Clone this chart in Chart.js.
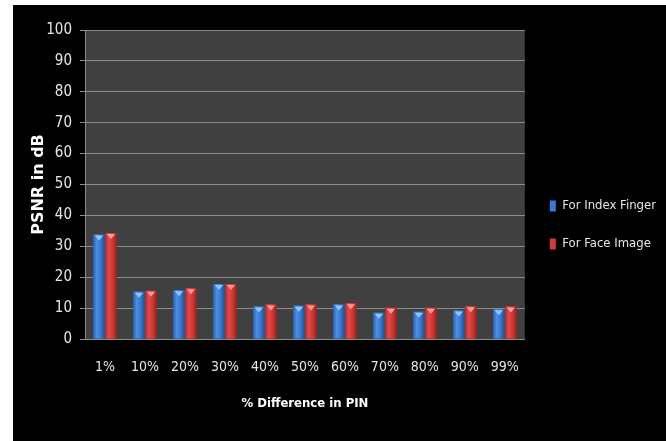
<!DOCTYPE html>
<html>
<head>
<meta charset="utf-8">
<script src="https://cdn.jsdelivr.net/npm/chart.js@4"></script>
<style>
  html, body { margin: 0; padding: 0; background: #ffffff; }
  #frame { position: absolute; left: 13px; top: 5px; width: 653px; height: 436px; background: #000000; }
  canvas { display: block; }
</style>
</head>
<body>
<div id="frame"><canvas id="psnr" width="653" height="436"></canvas></div>
<script>
// PSNR (dB) for each percentage difference in the PIN
const categories = ['1%', '10%', '20%', '30%', '40%', '50%', '60%', '70%', '80%', '90%', '99%'];
const indexFinger = [33.8, 15.3, 15.8, 17.8, 10.5, 10.8, 11.2, 8.5, 8.8, 9.2, 9.6];
const faceImage = [34.3, 15.6, 16.4, 17.8, 11.2, 11.2, 11.6, 10.1, 10.1, 10.6, 10.5];
const yTicks = [0, 10, 20, 30, 40, 50, 60, 70, 80, 90, 100];

const narrow = "'DejaVu Sans Condensed', 'Liberation Sans', sans-serif";

// cylinder-like shading for each series
const shades = [
  { flat: '#3a7ad0', edgeL: '#2b5fa8', light: '#4a90e6', mid: '#3673c6', edgeR: '#214d8c', hi: '#8fc6ff' },
  { flat: '#d23c3c', edgeL: '#a82a2a', light: '#e24a4a', mid: '#cc3434', edgeR: '#8c2020', hi: '#ff9a9a' }
];

const plotBackground = {
  id: 'plotBackground',
  beforeDraw(chart) {
    const { ctx, chartArea: a } = chart;
    ctx.save();
    ctx.fillStyle = '#404040';
    ctx.fillRect(a.left, a.top, a.right - a.left, a.bottom - a.top);
    ctx.restore();
  }
};

const shadedBars = {
  id: 'shadedBars',
  afterDatasetDraw(chart, args) {
    const ctx = chart.ctx;
    const s = shades[args.index];
    ctx.save();
    args.meta.data.forEach(bar => {
      const { x, y, base, width } = bar.getProps(['x', 'y', 'base', 'width'], true);
      const l = x - width / 2, r = x + width / 2;
      const g = ctx.createLinearGradient(l, 0, r, 0);
      g.addColorStop(0, s.edgeL);
      g.addColorStop(0.3, s.light);
      g.addColorStop(0.7, s.mid);
      g.addColorStop(1, s.edgeR);
      ctx.fillStyle = g;
      ctx.fillRect(l, y, width, base - y);
      ctx.beginPath();
      ctx.moveTo(l + 1.5, y + 1);
      ctx.lineTo(r - 1.5, y + 1);
      ctx.lineTo(x, y + 6);
      ctx.closePath();
      ctx.fillStyle = s.hi;
      ctx.fill();
    });
    ctx.restore();
  }
};

new Chart(document.getElementById('psnr'), {
  type: 'bar',
  data: {
    labels: categories,
    datasets: [
      { label: 'For Index Finger', data: indexFinger, backgroundColor: shades[0].flat, borderWidth: 0 },
      { label: 'For Face Image', data: faceImage, backgroundColor: shades[1].flat, borderWidth: 0 }
    ]
  },
  options: {
    responsive: false,
    animation: false,
    devicePixelRatio: 1,
    categoryPercentage: 0.6,
    barPercentage: 0.96,
    layout: { padding: { top: 25, left: 0, bottom: 21, right: 0 } },
    plugins: {
      tooltip: { enabled: false },
      legend: {
        position: 'right',
        labels: {
          boxWidth: 6,
          boxHeight: 11,
          padding: 25,
          color: '#e6e6e6',
          font: { family: narrow, size: 13 }
        }
      }
    },
    scales: {
      x: {
        afterFit(scale) { scale.height = 81; },
        grid: { display: false, drawTicks: false },
        border: { display: true, color: '#8c8c8c' },
        ticks: { color: '#e6e6e6', padding: 20, font: { family: narrow, size: 14 } },
        title: {
          display: true,
          text: '% Difference in PIN',
          color: '#ffffff',
          padding: { top: 10, bottom: 9 },
          font: { family: narrow, size: 13, weight: 'bold' }
        }
      },
      y: {
        min: 0,
        max: 100,
        afterFit(scale) { scale.width = 72; },
        afterBuildTicks(scale) { scale.ticks = yTicks.map(v => ({ value: v })); },
        grid: { color: '#8c8c8c', tickLength: 5, lineWidth: 1 },
        border: { color: '#8c8c8c' },
        ticks: { color: '#e6e6e6', padding: 8, font: { family: narrow, size: 15 } },
        title: {
          display: true,
          text: 'PSNR in dB',
          color: '#ffffff',
          padding: { top: 16, bottom: 4 },
          font: { family: "'DejaVu Sans', sans-serif", size: 16, weight: 'bold' }
        }
      }
    }
  },
  plugins: [plotBackground, shadedBars]
});
</script>
</body>
</html>
